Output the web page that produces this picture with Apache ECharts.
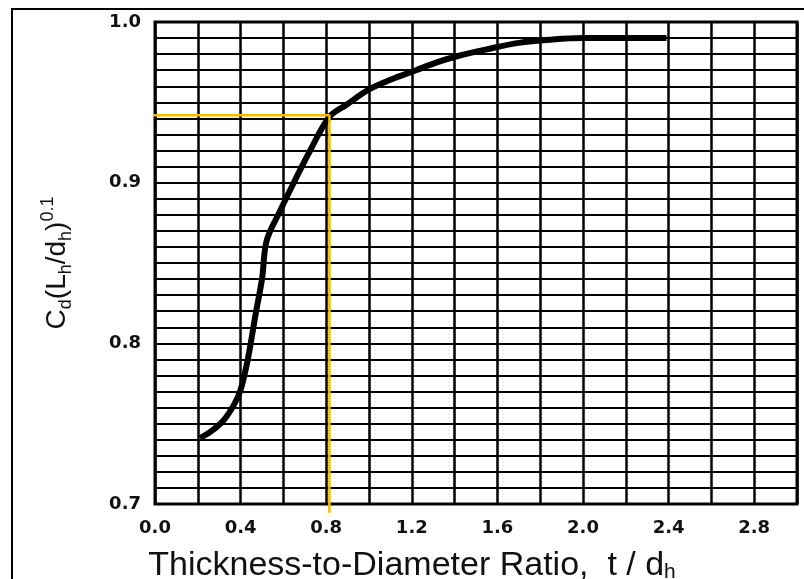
<!DOCTYPE html>
<html><head><meta charset="utf-8">
<script src="https://cdn.jsdelivr.net/npm/echarts@6/dist/echarts.min.js"></script>
<style>html,body{margin:0;padding:0;background:#fff}#c{width:804px;height:579px}</style>
</head><body><div id="c"></div>
<script>
// Curve: Cd(Lh/dh)^0.1 vs t/dh
const curveX = [0.21, 0.26, 0.32, 0.37, 0.40, 0.435, 0.47, 0.50, 0.522, 0.585, 0.645, 0.725, 0.815, 0.895, 1.0, 1.1, 1.22, 1.32, 1.42, 1.55, 1.70, 1.85, 2.0, 2.2, 2.39];
const curveY = [0.741, 0.745, 0.752, 0.762, 0.771, 0.791, 0.818, 0.840, 0.864, 0.8825, 0.899, 0.920, 0.941, 0.9485, 0.958, 0.964, 0.970, 0.975, 0.979, 0.983, 0.987, 0.989, 0.990, 0.990, 0.990];
// Reading guide (orange)
const guideX = [-0.135, 0.815, 0.815];
const guideY = [0.942, 0.942, 0.6945];
const xTickLabels = ['0.0', '0.4', '0.8', '1.2', '1.6', '2.0', '2.4', '2.8'];
const yTickLabels = ['0.7', '0.8', '0.9', '1.0'];

const chart = echarts.init(document.getElementById('c'), null, {renderer: 'canvas'});
const FONT = '"Liberation Sans", Arial, sans-serif';
const TICKFONT = '"DejaVu Sans", sans-serif';
chart.setOption({
  animation: false,
  backgroundColor: '#fff',
  grid: {left: 155, right: 7, top: 22, bottom: 75, show: true, borderColor: '#000', borderWidth: 3,
    backgroundColor: 'transparent', containLabel: false, outerBoundsMode: 'none'},
  xAxis: {
    type: 'value', min: 0, max: 3.0, interval: 0.2,
    axisLine: {show: false}, axisTick: {show: false},
    splitLine: {show: true, lineStyle: {color: '#000', width: 2.5}},
    axisLabel: {
      margin: 15, fontFamily: TICKFONT, fontWeight: 'bold', fontSize: 18, color: '#111',
      formatter: v => { const s = v.toFixed(1); return xTickLabels.includes(s) ? s : ''; }
    },
    name: 'Thickness-to-Diameter Ratio,  t / d{sub|h}',
    nameLocation: 'middle', nameGap: 45,
    nameTextStyle: {fontFamily: FONT, fontSize: 34, color: '#111', padding: [0, 128, 0, 0],
      rich: {sub: {fontFamily: FONT, fontSize: 21, color: '#111', verticalAlign: 'bottom', padding: [10, 0, 0, 0]}}}
  },
  yAxis: {
    type: 'value', min: 0.7, max: 1.0, interval: 0.01,
    axisLine: {show: false}, axisTick: {show: false},
    splitLine: {show: true, lineStyle: {color: '#000', width: 2.2}},
    axisLabel: {
      margin: 14, fontFamily: TICKFONT, fontWeight: 'bold', fontSize: 18, color: '#111',
      formatter: v => { const s = v.toFixed(2); return (s.endsWith('0') && yTickLabels.includes(v.toFixed(1))) ? v.toFixed(1) : ''; }
    },
    name: 'C{sub|d}(L{sub|h}/d{sub|h}){sup|0.1}',
    nameLocation: 'middle', nameGap: 80, nameRotate: 90,
    nameTextStyle: {fontFamily: FONT, fontSize: 28, color: '#111', lineHeight: 36,
      rich: {
        sub: {fontFamily: FONT, fontSize: 18, color: '#111', verticalAlign: 'bottom', lineHeight: 24},
        sup: {fontFamily: FONT, fontSize: 18, color: '#111', verticalAlign: 'top', lineHeight: 24}
      }}
  },
  graphic: [
    {type: 'rect', shape: {x: 12, y: 9, width: 820, height: 620}, style: {fill: null, stroke: '#000', lineWidth: 2}, silent: true, z: 100}
  ],
  series: [
    {type: 'line', data: curveX.map((x, i) => [x, curveY[i]]), smooth: 0.35, showSymbol: false,
      lineStyle: {color: '#000', width: 6}, z: 5},
    {type: 'line', data: guideX.map((x, i) => [x, guideY[i]]), smooth: false, showSymbol: false, clip: false,
      lineStyle: {color: '#F7BA00', width: 2.5}, z: 6}
  ]
});
</script>
</body></html>
